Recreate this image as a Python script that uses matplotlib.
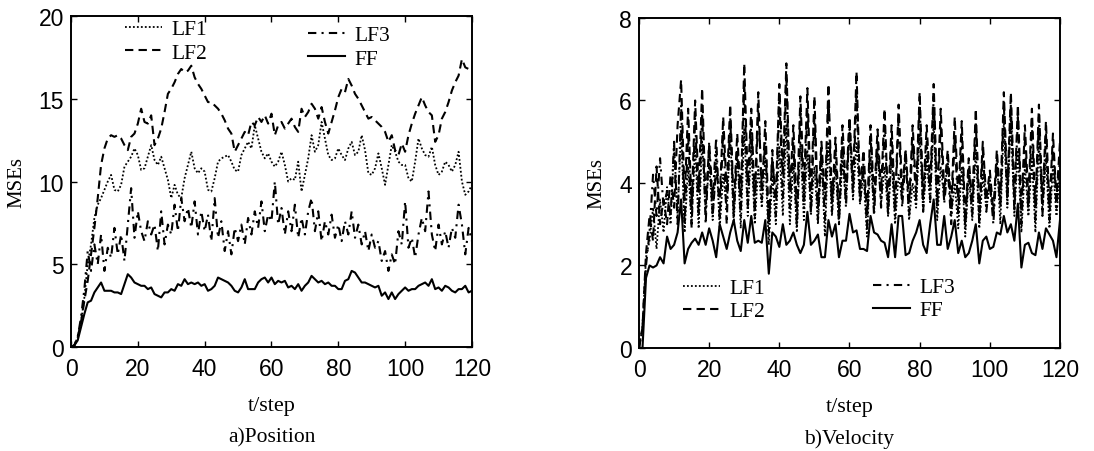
import numpy as np
import matplotlib
matplotlib.use("Agg")
import matplotlib.pyplot as plt

# time steps
t = np.arange(0, 121)

# a) Position MSEs
pos_lf1 = [0, 0.1, 0.6, 1.5, 3.0, 5.0, 6.2, 7.8, 8.6, 9.0, 9.5, 10.0, 10.4, 9.5, 9.4, 9.8, 10.9, 11.2, 11.5, 12.0,
           11.6, 10.7, 10.8, 11.5, 12.2, 11.3, 11.0, 11.5, 10.8, 10.1, 9.0, 9.8, 9.2, 9.0, 10.2, 11.0, 11.8, 10.8, 10.5, 10.8,
           10.6, 9.5, 9.4, 10.2, 11.2, 11.4, 11.5, 11.6, 11.2, 10.7, 10.6, 11.6, 12.0, 12.4, 12.0, 13.4, 12.6, 11.8, 11.4, 11.7,
           11.2, 10.9, 11.2, 11.8, 11.0, 10.0, 10.2, 10.1, 11.2, 9.4, 10.4, 11.4, 12.8, 11.8, 12.2, 13.6, 12.6, 11.6, 11.3, 11.4,
           12.0, 11.6, 11.3, 12.0, 12.4, 11.6, 11.8, 12.8, 11.9, 10.5, 10.4, 10.8, 11.7, 10.8, 9.8, 11.0, 12.2, 11.8, 11.2, 11.0,
           11.0, 10.2, 10.0, 11.2, 12.6, 12.0, 11.6, 11.5, 12.1, 11.0, 10.4, 10.6, 11.2, 11.0, 10.6, 11.0, 11.8, 10.0, 9.2, 9.4,
           9.8]
pos_lf2 = [0, 0.1, 0.6, 1.5, 2.8, 4.0, 5.6, 7.2, 9.0, 11.0, 12.0, 12.6, 12.8, 12.7, 12.8, 12.6, 12.2, 11.9, 12.7, 12.9,
           13.5, 14.4, 13.6, 13.5, 14.0, 12.2, 12.6, 13.2, 14.2, 15.3, 15.6, 16.0, 16.5, 16.8, 16.6, 16.7, 17.0, 16.3, 15.9, 15.6,
           15.2, 14.8, 14.8, 14.6, 14.4, 14.1, 13.7, 13.2, 12.9, 11.8, 12.2, 12.6, 13.0, 12.8, 13.6, 13.4, 13.9, 13.6, 14.0, 13.5,
           14.1, 12.8, 13.4, 13.6, 13.2, 13.5, 13.8, 13.3, 13.0, 14.4, 13.9, 14.2, 14.7, 14.4, 13.8, 14.5, 13.6, 12.9, 13.6, 14.3,
           15.1, 15.6, 15.4, 16.2, 15.8, 15.3, 15.0, 14.6, 14.2, 13.8, 13.9, 13.7, 13.5, 13.3, 13.0, 12.4, 12.8, 11.9, 11.6, 12.3,
           11.8, 12.8, 13.5, 14.1, 14.6, 15.1, 14.6, 14.2, 14.0, 12.4, 12.8, 13.8, 14.2, 14.8, 15.5, 16.0, 16.4, 17.4, 16.9, 16.8,
           16.8]
pos_lf3 = [0, 0.1, 0.6, 1.8, 3.5, 5.8, 4.6, 6.2, 5.0, 6.8, 4.6, 6.0, 5.4, 7.2, 5.6, 6.8, 5.2, 7.4, 9.6, 6.6,
           8.2, 7.0, 6.4, 7.6, 6.8, 7.4, 5.8, 8.2, 6.2, 7.4, 6.8, 8.6, 7.0, 9.0, 7.6, 8.4, 7.2, 8.8, 6.8, 8.2,
           7.0, 8.0, 6.4, 9.0, 6.6, 7.6, 5.8, 7.0, 5.6, 7.2, 6.4, 7.4, 6.2, 7.8, 6.8, 8.2, 7.2, 8.8, 7.0, 8.0,
           7.6, 10.0, 7.4, 8.4, 6.8, 8.2, 7.0, 8.6, 6.6, 7.8, 6.8, 8.2, 9.0, 7.0, 8.2, 6.4, 7.6, 6.8, 8.0, 6.6,
           7.4, 6.4, 7.6, 6.8, 8.2, 6.6, 7.4, 6.2, 7.0, 5.8, 6.8, 6.0, 6.4, 5.2, 5.8, 4.6, 5.6, 5.0, 7.0, 6.2,
           8.8, 6.0, 6.6, 5.4, 6.8, 7.8, 7.0, 9.4, 6.8, 5.8, 7.4, 6.2, 7.0, 6.0, 7.2, 6.6, 8.6, 7.4, 5.6, 7.2,
           6.4]
pos_ff = [0.0, 0.1, 0.4, 1.2, 2.0, 2.7, 2.8, 3.3, 3.6, 3.9, 3.4, 3.4, 3.4, 3.3, 3.3, 3.2, 3.8, 4.4, 4.2, 3.9,
          3.8, 3.7, 3.7, 3.5, 3.6, 3.2, 3.1, 3.0, 3.3, 3.3, 3.5, 3.4, 3.8, 3.7, 4.1, 3.8, 3.9, 3.8, 3.9, 3.7,
          3.8, 3.4, 3.5, 3.7, 4.2, 4.1, 4.0, 3.9, 3.7, 3.4, 3.3, 3.6, 4.1, 3.5, 3.5, 3.5, 3.9, 4.1, 4.2, 3.9,
          4.2, 3.8, 4.0, 3.9, 4.0, 3.6, 3.7, 3.5, 3.8, 3.4, 3.7, 3.9, 4.3, 4.1, 3.9, 4.0, 3.8, 3.9, 3.7, 3.7,
          3.5, 3.5, 4.0, 4.1, 4.6, 4.5, 4.2, 3.9, 3.9, 3.8, 3.7, 3.6, 3.7, 3.1, 3.3, 2.9, 3.3, 2.9, 3.2, 3.4,
          3.6, 3.4, 3.5, 3.5, 3.7, 3.8, 3.9, 3.7, 4.1, 3.5, 3.6, 3.4, 3.7, 3.6, 3.4, 3.3, 3.5, 3.5, 3.7, 3.3,
          3.4]

# b) Velocity MSEs
vel_lf1 = [0, 0.5, 2.2, 2.6, 3.4, 2.4, 3.6, 2.8, 3.9, 3.0, 4.9, 3.2, 5.3, 2.8, 4.4, 3.0, 4.9, 2.9, 5.0, 3.3,
           4.5, 3.1, 4.8, 2.9, 4.2, 3.4, 5.2, 3.0, 4.8, 2.9, 5.3, 3.2, 4.9, 3.0, 4.4, 3.4, 4.6, 2.5, 4.2, 3.0,
           4.9, 3.2, 5.4, 3.0, 4.5, 2.8, 5.0, 3.1, 4.8, 3.3, 4.4, 3.0, 4.6, 2.7, 5.0, 3.2, 4.4, 3.0, 4.6, 3.5,
           5.3, 3.6, 5.0, 3.5, 4.2, 2.7, 4.6, 3.3, 4.8, 3.5, 4.4, 3.2, 4.6, 3.0, 4.2, 3.6, 4.8, 3.1, 4.0, 3.4,
           5.2, 3.3, 4.6, 3.5, 5.5, 3.1, 4.4, 3.6, 4.6, 3.2, 4.0, 2.9, 4.4, 2.7, 4.2, 3.1, 4.8, 2.9, 4.2, 3.4,
           3.9, 3.2, 4.6, 3.0, 5.5, 3.4, 5.6, 3.2, 4.8, 2.8, 4.4, 3.2, 4.6, 2.8, 5.0, 3.3, 4.6, 2.9, 4.4, 3.2,
           4.2]
vel_lf2 = [0, 0.5, 2.3, 3.2, 2.6, 4.4, 3.0, 3.6, 3.0, 4.2, 3.4, 5.4, 6.5, 3.6, 5.8, 3.4, 6.0, 3.8, 6.3, 3.5,
           4.9, 3.2, 4.4, 3.6, 5.6, 3.8, 5.9, 3.4, 5.2, 3.6, 6.9, 4.0, 5.8, 3.5, 6.2, 3.6, 5.5, 3.0, 4.6, 3.6,
           6.4, 4.2, 6.9, 3.8, 5.4, 3.3, 6.1, 3.8, 6.3, 3.6, 6.1, 3.4, 5.0, 3.6, 6.4, 3.5, 5.1, 3.3, 5.4, 3.8,
           5.6, 4.0, 6.7, 3.8, 4.8, 3.2, 5.4, 3.6, 5.3, 3.8, 5.8, 3.5, 5.4, 3.4, 5.9, 3.8, 4.8, 3.5, 5.4, 3.8,
           6.2, 3.6, 5.4, 3.9, 6.4, 3.6, 5.8, 3.8, 4.8, 3.4, 5.6, 3.6, 5.5, 3.1, 4.6, 3.5, 5.8, 3.3, 5.0, 3.6,
           4.3, 3.3, 4.8, 3.6, 6.2, 3.8, 6.2, 3.6, 5.9, 3.3, 5.4, 3.6, 5.8, 3.4, 5.9, 3.5, 5.5, 3.4, 5.2, 3.6,
           5.0]
vel_lf3 = [0, 0.5, 2.0, 2.8, 4.2, 3.2, 4.6, 3.4, 3.8, 3.2, 5.0, 3.0, 5.9, 3.0, 5.2, 2.9, 5.6, 3.2, 5.7, 3.0,
           5.0, 3.6, 5.1, 3.1, 5.3, 3.0, 5.6, 3.2, 4.8, 3.2, 6.4, 3.4, 5.5, 3.2, 5.8, 3.9, 5.0, 2.8, 4.8, 3.2,
           6.1, 3.6, 6.6, 3.4, 5.0, 2.9, 5.7, 3.4, 5.8, 3.2, 5.6, 3.1, 4.8, 3.1, 6.0, 3.3, 4.8, 3.0, 5.0, 3.4,
           5.5, 3.7, 6.2, 3.5, 4.5, 2.9, 5.2, 3.2, 5.0, 3.4, 5.4, 3.2, 5.0, 3.2, 5.6, 3.4, 4.6, 3.2, 5.0, 3.6,
           5.9, 3.3, 5.0, 3.6, 6.1, 3.3, 5.4, 3.5, 4.4, 3.0, 5.2, 3.2, 5.1, 2.9, 4.4, 3.2, 5.5, 3.0, 4.8, 3.3,
           4.1, 3.0, 4.5, 3.4, 5.9, 3.5, 5.9, 3.3, 5.6, 3.0, 5.0, 3.3, 5.4, 3.1, 5.6, 3.2, 5.2, 3.1, 4.9, 3.4,
           4.6]
vel_ff = [0.0, 0.0, 1.7, 2.0, 1.95, 2.0, 2.2, 2.05, 2.7, 2.4, 2.5, 2.8, 3.6, 2.05, 2.4, 2.55, 2.65, 2.5, 2.8, 2.5,
          2.9, 2.6, 2.2, 3.0, 2.7, 2.4, 2.8, 3.1, 2.6, 2.35, 3.1, 2.55, 3.2, 2.55, 2.6, 2.55, 3.1, 1.8, 2.8, 2.7,
          2.45, 3.0, 2.5, 2.6, 2.8, 2.5, 2.3, 2.5, 3.3, 2.5, 2.6, 2.75, 2.2, 2.2, 3.1, 2.7, 3.0, 2.2, 2.6, 2.6,
          3.25, 2.8, 2.85, 2.4, 2.4, 2.35, 3.2, 2.8, 2.75, 2.6, 2.55, 2.2, 3.0, 2.2, 3.2, 3.2, 2.25, 2.3, 2.6, 2.8,
          3.1, 2.5, 2.3, 3.0, 3.6, 2.5, 2.5, 3.2, 2.4, 2.7, 3.1, 2.3, 2.6, 2.2, 2.3, 2.6, 3.0, 2.05, 2.6, 2.7,
          2.4, 2.45, 2.8, 2.75, 3.2, 2.8, 3.0, 2.6, 3.5, 1.95, 2.5, 2.55, 2.3, 2.25, 2.8, 2.4, 2.9, 2.75, 2.6, 2.2,
          3.1]

x_ticks = [0, 20, 40, 60, 80, 100, 120]
pos_yticks = [0, 5, 10, 15, 20]
vel_yticks = [0, 2, 4, 6, 8]

SERIF = "Liberation Serif"
SANS = "Liberation Sans"

styles = {
    'LF1': dict(linestyle=(0, (1, 1.2)), lw=1.3),
    'LF2': dict(linestyle=(0, (4, 2.5)), lw=1.5),
    'LF3': dict(linestyle=(0, (4, 2.5, 1, 2.5)), lw=1.5),
    'FF': dict(linestyle='-', lw=1.5),
}


def style_axes(ax, yticks, ylim, title):
    ax.set_xlim(0, 120)
    ax.set_ylim(*ylim)
    ax.set_xticks(x_ticks)
    ax.set_yticks(yticks)
    ax.tick_params(direction='in', top=True, right=True, length=4, width=1,
                   labelsize=16.5)
    ax.tick_params(axis='x', pad=7)
    ax.tick_params(axis='y', pad=5)
    for lbl in ax.get_xticklabels() + ax.get_yticklabels():
        lbl.set_fontfamily(SANS)
    for s in ax.spines.values():
        s.set_linewidth(1.4)
    ax.set_xlabel("t/step", fontfamily=SERIF, fontsize=16, labelpad=12)
    ax.set_ylabel("MSEs", fontfamily=SERIF, fontsize=15, labelpad=9)
    ax.text(0.5, -0.272, title, transform=ax.transAxes, ha='center', va='center',
            fontfamily=SERIF, fontsize=15.5)


def draw(ax, data, leg1_pos, leg2_pos):
    lines = {}
    for name, y in data:
        ln, = ax.plot(t, y, color='black', **styles[name])
        lines[name] = ln
    common = dict(frameon=False, loc='upper left', borderpad=0, borderaxespad=0,
                  handlelength=1.7, handletextpad=0.45, labelspacing=0.15,
                  prop={'family': SERIF, 'size': 15.5})
    l1 = ax.legend([lines['LF1'], lines['LF2']], ['LF1', 'LF2'],
                   bbox_to_anchor=leg1_pos, **common)
    ax.add_artist(l1)
    ax.legend([lines['LF3'], lines['FF']], ['LF3', 'FF'],
              bbox_to_anchor=leg2_pos, **common)


fig = plt.figure(figsize=(10.94, 4.52), dpi=100)
ax1 = fig.add_axes([0.0649, 0.230, 0.3665, 0.7323])
ax2 = fig.add_axes([0.5841, 0.228, 0.3848, 0.730])

draw(ax1, [('LF1', pos_lf1), ('LF2', pos_lf2), ('LF3', pos_lf3), ('FF', pos_ff)],
     (0.135, 0.99), (0.591, 0.972))
style_axes(ax1, pos_yticks, (0, 20), "a)Position")

draw(ax2, [('LF1', vel_lf1), ('LF2', vel_lf2), ('LF3', vel_lf3), ('FF', vel_ff)],
     (0.1045, 0.212), (0.556, 0.215))
style_axes(ax2, vel_yticks, (0, 8), "b)Velocity")

fig.savefig("out.png", dpi=100)
